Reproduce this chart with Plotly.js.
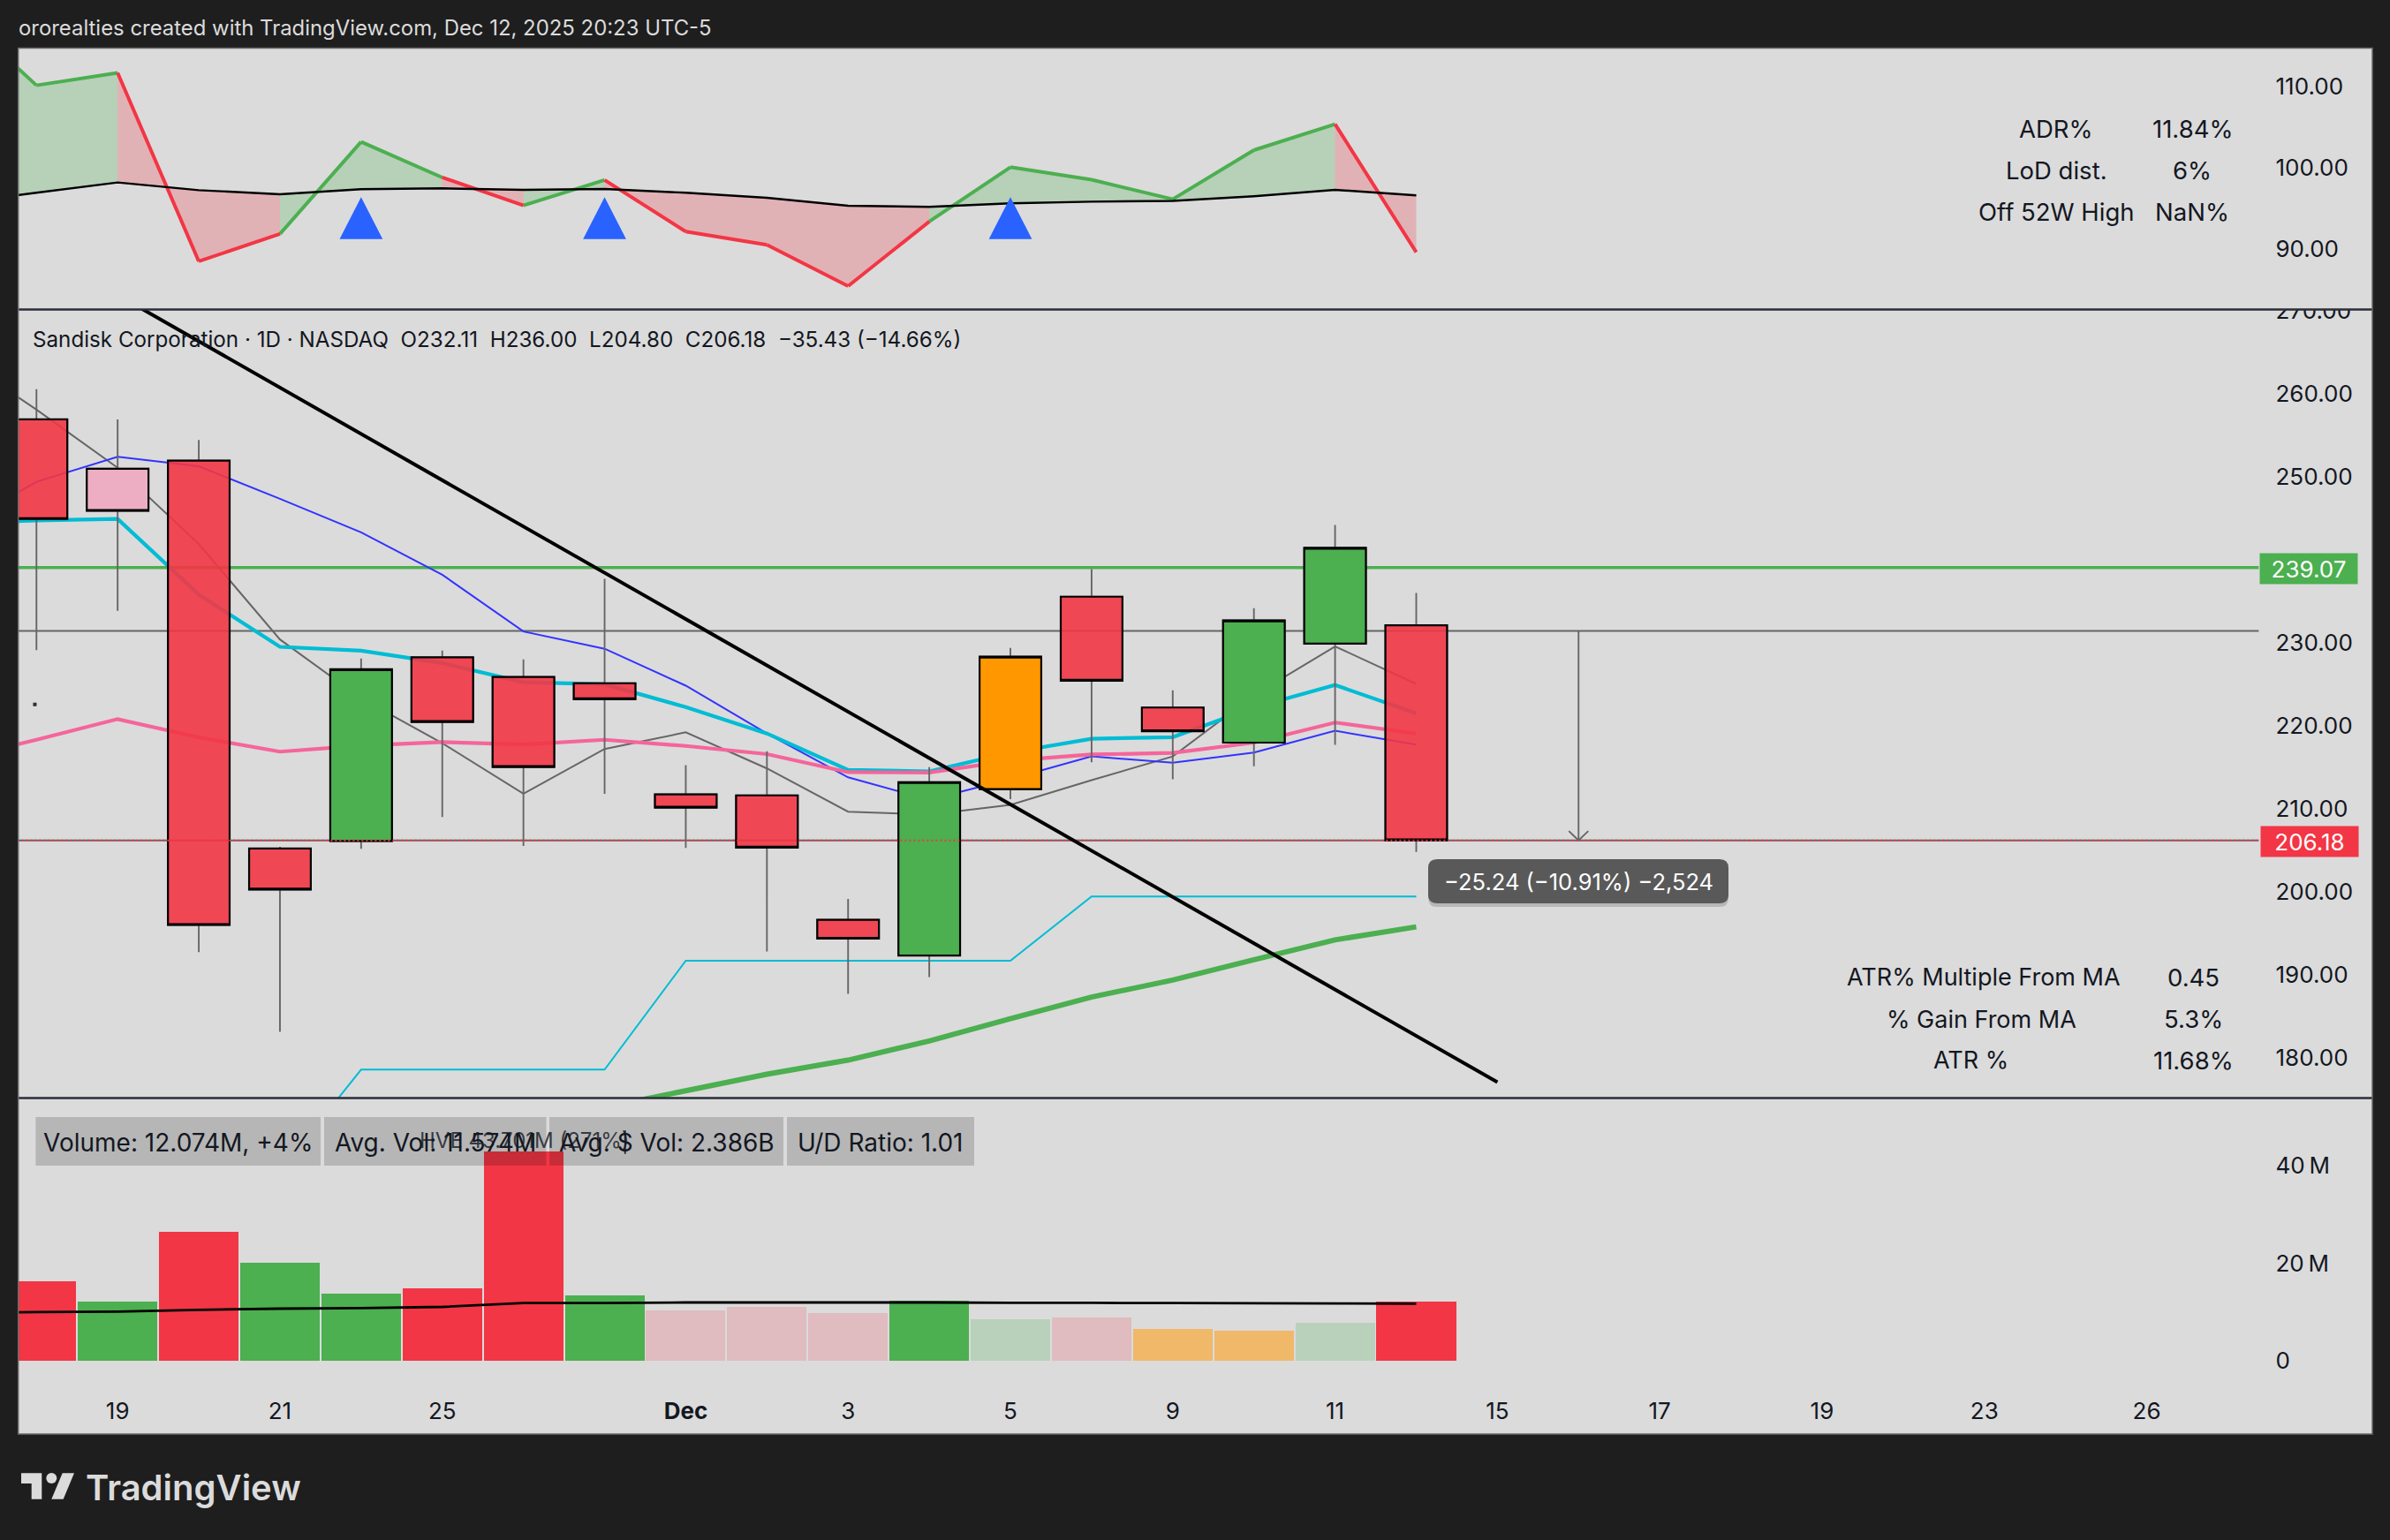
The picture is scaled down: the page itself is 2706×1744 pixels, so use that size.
<!DOCTYPE html>
<html>
<head>
<meta charset="utf-8">
<script src="https://cdn.plot.ly/plotly-3.0.1.min.js"></script>
<style>html,body{margin:0;padding:0;background:#1e1e1e}#chart{width:2706px;height:1744px}</style>
</head>
<body>
<div id="chart"></div>
<script>
// ---- candles -------------------------------------------------------------
const candleDates = ['Nov 18','Nov 19','Nov 20','Nov 21','Nov 24','Nov 25','Nov 26','Nov 28','Dec 1','Dec 2','Dec 3','Dec 4','Dec 5','Dec 8','Dec 9','Dec 10','Dec 11','Dec 12'];
const barIndex = [0,1,2,3,4,5,6,7,8,9,10,11,12,13,14,15,16,17];
const opens  = [256.93,250.98,251.96,205.20,206.10,228.24,225.87,225.12,211.73,211.60,196.60,192.30,212.35,235.55,222.19,217.96,229.89,232.11];
const highs  = [260.56,256.93,254.45,205.40,228.10,229.05,228.00,237.70,215.25,216.93,199.13,215.00,229.37,238.88,224.28,234.17,244.20,236.00];
const lows   = [229.10,233.84,192.70,183.10,205.15,209.00,205.50,211.80,205.27,192.80,187.68,189.70,211.16,215.60,213.54,215.11,217.70,204.80];
const closes = [244.92,245.90,195.98,200.25,226.80,220.45,215.02,223.20,210.12,205.30,194.33,213.20,228.32,225.42,219.34,232.70,241.44,206.18];
const candleKinds = ['red','pink','red','red','green','red','red','red','red','red','red','green','orange','red','red','green','green','red'];

// ---- moving averages on the price pane (first value is the bar before the view) ----
const lineIndex = [-1,0,1,2,3,4,5,6,7,8,9,10,11,12,13,14,15,16,17];
const maGray  = [264.7,258.1,251.1,241.9,230.4,223.3,217.9,211.8,217.2,219.2,214.85,209.64,209.3,210.45,213.44,216.3,223.66,229.56,225.04];
const maBlue  = [243.8,249.4,252.42,251.27,247.35,243.3,238.2,231.36,229.28,224.83,219.07,213.78,211.07,213.58,216.3,215.53,216.77,219.39,217.72];
const maCyan  = [244.4,244.75,244.92,235.8,229.51,229.05,227.55,225.24,225.0,222.24,219.06,214.68,214.49,216.77,218.43,218.62,222.2,224.9,221.5];
const maPink  = [216.0,218.3,220.8,218.6,216.87,217.6,218.03,217.73,218.31,217.56,216.58,214.4,214.35,215.8,216.53,216.72,217.96,220.38,219.05];
const stepIndex = [3,4,5,6,7,8,9,10,11,12,13,14,15,16,17];
const stepCyan  = [166.3,178.55,178.55,178.55,178.55,191.67,191.67,191.67,191.67,191.67,199.42,199.42,199.42,199.42,199.42];
const longIndex = [7,8,9,10,11,12,13,14,15,16,17];
const longGreen = [174.0,176.0,178.0,179.69,182.0,184.68,187.3,189.34,191.8,194.19,195.76];

// ---- drawings ------------------------------------------------------------
const trendIndex = [0,18];
const trendPrice = [277.5,177.03];
const levelGreen = 239.07, levelMeasure = 231.42, levelLast = 206.18;
const levelSpan = [-1,27.38];
const measureIndex = 19;
const arrowIndex = [18.88,19,19.12];
const arrowPrice = [207.3,206.18,207.3];
const dotIndex = [-0.02], dotPrice = [222.57];

// ---- relative-strength pane ----------------------------------------------
const rsLine = [119.3,110.12,111.65,88.46,91.83,103.17,98.78,95.34,98.46,92.12,90.49,85.41,93.35,100.05,98.5,96.1,102.15,105.34,89.58];
const rsMA   = [95.6,96.9,98.17,97.22,96.72,97.33,97.44,97.26,97.37,96.9,96.28,95.3,95.16,95.6,95.8,95.9,96.47,97.26,96.58];
const rsSegments = ['g','g','r','r','g','g','r','g','r','r','r','r','g','g','g','g','g','r'];
const signalIndex = [4,7,12];
const signalBase = 91.2, signalTip = 96.37, signalHalf = 0.265;

// ---- volume pane -----------------------------------------------------------
const volumes = [16.4,12.06,26.56,20.04,13.87,14.78,43.06,13.33,10.25,11.15,9.88,12.24,8.52,8.88,6.53,6.17,7.8,12.074];
const volumeKinds = ['R','G','R','G','G','R','R','G','r','r','r','G','g','r','o','o','g','R'];
const volumeMA = [9.9,9.98,10.1,10.46,10.7,10.82,11.06,11.85,11.85,11.97,11.97,11.97,11.97,11.91,11.88,11.84,11.8,11.75,11.71];

// ---- axis labels -----------------------------------------------------------
const xTickIndex = [1,3,5,8,10,12,14,16,18,20,22,24,26];
const xTickText = ['19','21','25','<b>Dec</b>','3','5','9','11','15','17','19','23','26'];
const rsTicks = [110,100,90], rsTickText = ['110.00','100.00','90.00'];
const priceTicks = [270,260,250,240,230,220,210,200,190,180];
const priceTickText = ['270.00','260.00','250.00','','230.00','220.00','210.00','200.00','190.00','180.00'];
const volTicks = [40,20,0], volTickText = ['40\u2009M','20\u2009M','0'];

// ---- texts -----------------------------------------------------------------
const creditText = 'ororealties created with TradingView.com, Dec 12, 2025 20:23 UTC-5';
const legendText = 'Sandisk Corporation · 1D · NASDAQ\u00a0\u00a0O232.11\u00a0\u00a0H236.00\u00a0\u00a0L204.80\u00a0\u00a0C206.18\u00a0\u00a0−35.43 (−14.66%)';
const measureText = '−25.24 (−10.91%) −2,524';
const statTop = [['ADR%','11.84%'],['LoD dist.','6%'],['Off 52W High','NaN%']];
const statBottom = [['ATR% Multiple From MA','0.45'],['% Gain From MA','5.3%'],['ATR %','11.68%']];
const volumeChips = ['Volume: 12.074M, +4%','Avg. Vol: 11.574M','Avg. $ Vol: 2.386B','U/D Ratio: 1.01'];
const hveText = 'HVE 43.701M (271%)';

// ---- palette / page geometry -------------------------------------------------
const W = 2706, H = 1744, FONT = 'Inter, "Liberation Sans", sans-serif';
const RED='#f23645', GREEN='#4caf50', PANEL='#dbdbdb', DARK='#1e1e1e', INK='#131722', WICK='#666666';
const volColors = {R:RED,G:GREEN,r:'#e0bbc0',g:'#b9d1ba',o:'#f0b869'};
const bodyFill = {red:'rgba(242,54,69,0.9)',green:GREEN,pink:'#edaec4',orange:'#ff9800'};
const px = x => x/W, py = y => 1-y/H;
const L=20.7,R=2686,T=54.5,S1=350.5,S2=1243.5,B=1624;
const xRange = [-0.224,28.78];

const traces = [];
const line = (x,y,color,width,xa,ya,extra) => traces.push(Object.assign({type:'scatter',mode:'lines',x,y,xaxis:xa,yaxis:ya,
  line:{color,width,simplify:false},hoverinfo:'skip',showlegend:false},extra||{}));

// RS pane
function segs(kind,arrA,arrB){
  const xs=[],ys=[];
  rsSegments.forEach((s,k)=>{ if(s!==kind) return;
    xs.push(lineIndex[k],lineIndex[k+1],lineIndex[k+1],lineIndex[k],null);
    ys.push(arrA[k],arrA[k+1],arrB[k+1],arrB[k],null);
  });
  return [xs,ys];
}
function lineSegs(kind,arr){
  const xs=[],ys=[];
  rsSegments.forEach((s,k)=>{ if(s!==kind) return;
    xs.push(lineIndex[k],lineIndex[k+1],null); ys.push(arr[k],arr[k+1],null);
  });
  return [xs,ys];
}
[['g','rgba(76,175,80,0.25)'],['r','rgba(242,54,69,0.25)']].forEach(([k,c])=>{
  const [xs,ys]=segs(k,rsLine,rsMA);
  traces.push({type:'scatter',mode:'lines',x:xs,y:ys,xaxis:'x3',yaxis:'y3',fill:'toself',fillcolor:c,line:{width:0},hoverinfo:'skip',showlegend:false});
});
[['g',GREEN],['r',RED]].forEach(([k,c])=>{
  const [xs,ys]=lineSegs(k,rsLine);
  line(xs,ys,c,4,'x3','y3');
});
line(lineIndex,rsMA,'#000000',2.4,'x3','y3');
{
  const xs=[],ys=[];
  signalIndex.forEach(i=>{xs.push(i-signalHalf,i,i+signalHalf,null);ys.push(signalBase,signalTip,signalBase,null);});
  traces.push({type:'scatter',mode:'lines',x:xs,y:ys,xaxis:'x3',yaxis:'y3',fill:'toself',fillcolor:'#2962ff',line:{width:0},hoverinfo:'skip',showlegend:false});
}

// price pane: under the candles
line(levelSpan,[levelGreen,levelGreen],GREEN,3.6,'x2','y2');
line(levelSpan,[levelMeasure,levelMeasure],WICK,1.9,'x2','y2');
line(levelSpan,[levelLast,levelLast],WICK,1.9,'x2','y2');
line(lineIndex,maGray,WICK,2,'x2','y2');
line(lineIndex,maBlue,'#3333ff',2,'x2','y2');
line(lineIndex,maCyan,'#00bcd4',4.2,'x2','y2');
line(lineIndex,maPink,'#f5659a',4.2,'x2','y2');
line(stepIndex,stepCyan,'#00bcd4',2,'x2','y2');
line(longIndex,longGreen,GREEN,6,'x2','y2');

// price pane: candles sit on an overlay so that they cover the lines
const candleBase = {type:'candlestick',xaxis:'x4',yaxis:'y4',whiskerwidth:0,hoverinfo:'skip',showlegend:false};
traces.push(Object.assign({},candleBase,{x:barIndex,open:opens,high:highs,low:lows,close:closes,text:candleDates,
  increasing:{line:{color:WICK,width:1.9},fillcolor:'rgba(0,0,0,0)'},
  decreasing:{line:{color:WICK,width:1.9},fillcolor:'rgba(0,0,0,0)'}}));
Object.keys(bodyFill).forEach(kind=>{
  const ids = barIndex.filter(i=>candleKinds[i]===kind);
  const o = ids.map(i=>opens[i]), c = ids.map(i=>closes[i]);
  const hi = ids.map(i=>Math.max(opens[i],closes[i])), lo = ids.map(i=>Math.min(opens[i],closes[i]));
  const st = {line:{color:'#000000',width:2.2},fillcolor:bodyFill[kind]};
  traces.push(Object.assign({},candleBase,{x:ids,open:o,high:hi,low:lo,close:c,increasing:st,decreasing:st}));
});
// drawings above the candles
line(levelSpan,[levelLast,levelLast],RED,1.9,'x4','y4',{line:{color:RED,width:1.9,dash:'2px,3px'}});
line(trendIndex,trendPrice,'#000000',4,'x4','y4');
line([measureIndex,measureIndex],[levelMeasure,levelLast],WICK,1.9,'x4','y4');
line(arrowIndex,arrowPrice,WICK,1.9,'x4','y4');
traces.push({type:'scatter',mode:'markers',x:dotIndex,y:dotPrice,xaxis:'x2',yaxis:'y2',marker:{symbol:'square',size:4,color:'#2a2e39'},hoverinfo:'skip',showlegend:false});

// volume pane
traces.push({type:'bar',x:barIndex,y:volumes,width:0.98,marker:{color:volumeKinds.map(k=>volColors[k]),line:{width:0}},xaxis:'x',yaxis:'y',hoverinfo:'skip',showlegend:false});
line(lineIndex,volumeMA,'#000000',2.8,'x','y');

const hidden = (domain,extra)=>Object.assign({visible:false,range:xRange,domain,fixedrange:true},extra||{});
const xDomain=[px(L),px(R)];
const rightAxis = (domain,range,vals,text,pos)=>({domain,range,side:'right',anchor:'free',position:pos,tickmode:'array',tickvals:vals,ticktext:text,
  showgrid:false,zeroline:false,showline:false,ticks:'',fixedrange:true,tickfont:{family:FONT,size:26,color:INK}});
const YPOS=px(2575.5);

const note=(text,x,y,o)=>Object.assign({text,x:px(x),y:py(y),xref:'paper',yref:'paper',showarrow:false,xanchor:'center',yanchor:'middle',
  align:'center',borderpad:0,font:{family:FONT,size:27.5,color:INK}},o||{});
const annotations=[
  note(creditText,20,31,{xanchor:'left',font:{family:FONT,size:23.9,color:PANEL}}),
  note(legendText,36,384,{xanchor:'left',font:{family:FONT,size:24.2,color:INK}}),
  note(String(levelGreen.toFixed(2)),2614,643.5,{width:110,height:34,bgcolor:GREEN,font:{family:FONT,size:26,color:'#ffffff'}}),
  note(String(levelLast.toFixed(2)),2615,952.5,{width:110,height:34,bgcolor:RED,font:{family:FONT,size:26,color:'#ffffff'}}),
  note(measureText,1787,998,{font:{family:FONT,size:25.5,color:'#ffffff'}}),
  note(hveText,594,1291,{font:{family:FONT,size:24,color:'rgba(19,23,34,0.8)'}}),
  note('TradingView',96,1684,{xanchor:'left',font:{family:FONT,size:40,color:PANEL,weight:600}})
];
const topRows=[145.7,192.6,239.6], bottomRows=[1106.5,1154,1200.5];
const bottomCenters=[2246,2243,2231];
const statSmall={font:{family:FONT,size:27,color:INK}};
statTop.forEach((r,i)=>{annotations.push(note(r[0],2328,topRows[i]),note(r[1],2482,topRows[i]));});
statBottom.forEach((r,i)=>{annotations.push(note(r[0],bottomCenters[i],bottomRows[i],statSmall),note(r[1],2483,bottomRows[i]));});
const chipBoxes=[[40.4,363],[367,618.5],[622,887],[891,1103]];
volumeChips.forEach((t,i)=>annotations.push(note(t,(chipBoxes[i][0]+chipBoxes[i][1])/2,1293.5,{font:{family:FONT,size:28,color:INK}})));

const rectPx=(x0,y0,x1,y1,o)=>Object.assign({type:'rect',xref:'paper',yref:'paper',x0:px(x0),x1:px(x1),y0:py(y0),y1:py(y1),line:{width:0},layer:'above'},o||{});
const roundPx=(x0,y0,x1,y1,r)=>{const f=(x,y)=>px(x)+','+py(y);
  return 'M'+f(x0+r,y0)+' L'+f(x1-r,y0)+' Q'+f(x1,y0)+' '+f(x1,y0+r)+' L'+f(x1,y1-r)+' Q'+f(x1,y1)+' '+f(x1-r,y1)+' L'+f(x0+r,y1)+' Q'+f(x0,y1)+' '+f(x0,y1-r)+' L'+f(x0,y0+r)+' Q'+f(x0,y0)+' '+f(x0+r,y0)+' Z';};
const pathPx=(d,fill,o)=>Object.assign({type:'path',xref:'paper',yref:'paper',path:d,fillcolor:fill,line:{width:0},layer:'above'},o||{});
const polyPx=pts=>'M'+pts.map(p=>px(p[0])+','+py(p[1])).join(' L')+' Z';

const shapes=[
  // cover for the clipped 270.00 label
  rectPx(2560,326,2680,S1,{fillcolor:PANEL}),
  // pane separators and frame
  rectPx(L,S1-1.3,R,S1+1.3,{fillcolor:'#2a2e39'}),
  rectPx(L,S2-1.3,R,S2+1.3,{fillcolor:'#2a2e39'}),
  rectPx(L,T,R,B,{line:{color:'#6a6a6a',width:1.5},fillcolor:'rgba(0,0,0,0)'}),
  // measure tooltip
  pathPx(roundPx(1617,976,1957,1027,10),'rgba(0,0,0,0.16)'),
  pathPx(roundPx(1617,973,1957,1023,10),'#595959'),
  // logo
  pathPx(polyPx([[24,1668.3],[47.3,1668.3],[47.3,1697.7],[35.7,1697.7],[35.7,1680],[24,1680]]),PANEL),
  pathPx(polyPx([[70.7,1668.3],[84,1668.3],[71.7,1697.7],[58.3,1697.7]]),PANEL),
  {type:'circle',xref:'paper',yref:'paper',x0:px(52.3),x1:px(64.3),y0:py(1668),y1:py(1680),fillcolor:PANEL,line:{width:0},layer:'above'}
];
chipBoxes.forEach(b=>shapes.push(rectPx(b[0],1265,b[1],1320,{fillcolor:'rgba(0,0,0,0.17)'})));

const layout={
  width:W,height:H,autosize:false,paper_bgcolor:DARK,plot_bgcolor:PANEL,showlegend:false,
  margin:{l:0,r:0,t:0,b:0,pad:0},font:{family:FONT},
  boxmode:'overlay',boxgap:0.24,boxgroupgap:0,bargap:0,
  xaxis:{domain:xDomain,range:xRange,anchor:'free',position:py(1580),side:'bottom',tickmode:'array',tickvals:xTickIndex,ticktext:xTickText,
    showgrid:false,zeroline:false,showline:false,ticks:'',fixedrange:true,tickfont:{family:FONT,size:26,color:INK}},
  yaxis:rightAxis([py(B),py(S2)],[-15.05,53.94],volTicks,volTickText,YPOS),
  xaxis2:hidden(xDomain,{anchor:'y2'}),
  yaxis2:rightAxis([py(S2),py(S1)],[175.12,270.17],priceTicks,priceTickText,YPOS),
  xaxis3:hidden(xDomain,{anchor:'y3'}),
  yaxis3:rightAxis([py(S1),py(T)],[82.53,114.7],rsTicks,rsTickText,YPOS),
  xaxis4:hidden(xDomain,{anchor:'y4',overlaying:'x2',rangeslider:{visible:false}}),
  yaxis4:{visible:false,domain:[py(S2),py(S1)],range:[175.12,270.17],anchor:'x4',overlaying:'y2',fixedrange:true},
  annotations,shapes
};
Plotly.newPlot('chart',traces,layout,{staticPlot:true,displayModeBar:false,responsive:false});
</script>
</body>
</html>
